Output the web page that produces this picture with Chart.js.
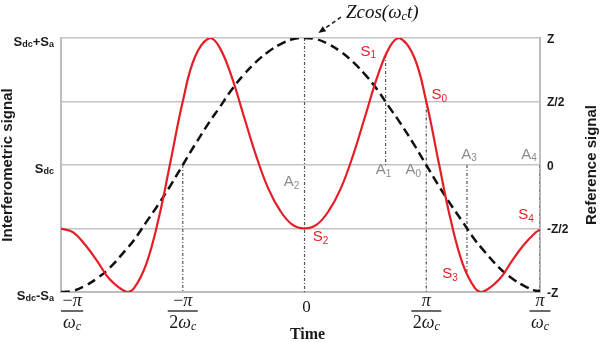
<!DOCTYPE html>
<html>
<head>
<meta charset="utf-8">
<script src="https://cdn.jsdelivr.net/npm/chart.js@4.4.0/dist/chart.umd.min.js"></script>
<style>
  html, body { margin: 0; padding: 0; background: #fff; }
  canvas { display: block; }
</style>
</head>
<body>
<canvas id="chart" width="600" height="342"></canvas>
<script>
// Time axis in units of pi/omega_c
const timeValues = [-1, -0.95, -0.9, -0.85, -0.8, -0.73, -0.7, -0.65, -0.6, -0.55,
  -0.5, -0.45, -0.39, -0.35, -0.3, -0.25, -0.2, -0.15, -0.1, -0.05,
  0, 0.05, 0.1, 0.15, 0.2, 0.25, 0.3, 0.35, 0.39, 0.45,
  0.5, 0.55, 0.6, 0.65, 0.7, 0.73, 0.8, 0.85, 0.9, 0.95, 0.967];

// Interferometric signal, (S - Sdc) / Sa
const interferometric = [-0.50, -0.53, -0.63, -0.76, -0.90, -1.00, -0.97, -0.78, -0.43, 0.03,
  0.50, 0.85, 1.00, 0.93, 0.70, 0.39, 0.08, -0.18, -0.36, -0.47,
  -0.50, -0.47, -0.36, -0.18, 0.08, 0.39, 0.70, 0.93, 1.00, 0.85,
  0.50, 0.03, -0.43, -0.78, -0.97, -1.00, -0.90, -0.76, -0.63, -0.53, -0.51];

// Reference signal, Zcos(wc t) / Z
const reference = [-1.00, -0.99, -0.95, -0.89, -0.81, -0.66, -0.59, -0.45, -0.31, -0.16,
  0.00, 0.16, 0.34, 0.45, 0.59, 0.71, 0.81, 0.89, 0.95, 0.99,
  1.00, 0.99, 0.95, 0.89, 0.81, 0.71, 0.59, 0.45, 0.34, 0.16,
  0.00, -0.16, -0.31, -0.45, -0.59, -0.66, -0.81, -0.89, -0.95, -0.99, -0.99];

// Sampling instants (A2, A1, A0, A3, A4 and the -pi/2wc guide) with their vertical extents
const markerTimes = [-0.5, 0, 0.333, 0.5, 0.667, 0.967];
const markerFrom  = [0, 1, 0.866, 0.5, 0, 0];
const markerTo    = [-1, -1, 0, -1, -0.866, -1];

// Tick labels
const xTickValues = [-1, -0.5, 0, 0.5, 0.967];
const xTickNumerators = ['−π', '−π', '0', 'π', 'π'];
const xTickDenominators = ['ω', '2ω', '', '2ω', 'ω'];
const leftTickValues = [1, 0, -1];
const leftTickLabels = [['S', 'dc', '+S', 'a'], ['S', 'dc'], ['S', 'dc', '-S', 'a']];
const rightTickValues = [1, 0.5, 0, -0.5, -1];
const rightTickLabels = ['Z', 'Z/2', '0', '-Z/2', '-Z'];

const RED = '#e41e26';
const GREY = '#8c8c8c';

// Point annotations in data coordinates (time, signal)
const pointNotes = [
  { text: ['S', '1'], t: 0.262, v: 0.894, color: RED },
  { text: ['S', '0'], t: 0.553, v: 0.551, color: RED },
  { text: ['S', '2'], t: 0.066, v: -0.567, color: RED },
  { text: ['S', '3'], t: 0.598, v: -0.858, color: RED },
  { text: ['S', '4'], t: 0.910, v: -0.394, color: RED },
  { text: ['A', '2'], t: -0.053, v: -0.134, color: GREY },
  { text: ['A', '1'], t: 0.324, v: -0.039, color: GREY },
  { text: ['A', '0'], t: 0.447, v: -0.039, color: GREY },
  { text: ['A', '3'], t: 0.676, v: 0.083, color: GREY },
  { text: ['A', '4'], t: 0.922, v: 0.083, color: GREY }
];

const toPoints = (xs, ys) => xs.map((x, i) => ({ x: x, y: ys[i] }));

const datasets = [
  {
    data: toPoints(timeValues, interferometric),
    yAxisID: 'y',
    borderColor: RED,
    borderWidth: 2.2,
    pointRadius: 0,
    tension: 0.4,
    fill: false
  },
  {
    data: toPoints(timeValues, reference),
    yAxisID: 'yr',
    borderColor: '#111',
    borderWidth: 2.5,
    borderDash: [9, 5],
    pointRadius: 0,
    tension: 0.4,
    fill: false
  }
];
markerTimes.forEach((t, i) => {
  datasets.push({
    data: [{ x: t, y: markerFrom[i] }, { x: t, y: markerTo[i] }],
    yAxisID: 'y',
    borderColor: '#555',
    borderWidth: 1.2,
    borderDash: [3, 2, 1, 2],
    pointRadius: 0,
    fill: false
  });
});

function drawRich(ctx, parts, x, y, align, color) {
  let w = 0;
  for (const p of parts) { ctx.font = p.font; w += ctx.measureText(p.t).width; }
  let cx = align === 'right' ? x - w : (align === 'center' ? x - w / 2 : x);
  ctx.textBaseline = 'middle';
  ctx.textAlign = 'left';
  ctx.fillStyle = color;
  for (const p of parts) {
    ctx.font = p.font;
    ctx.fillText(p.t, cx, y + (p.dy || 0));
    cx += ctx.measureText(p.t).width;
  }
  return w;
}

const labelsPlugin = {
  id: 'labels',
  afterDatasetsDraw(chart) {
    const ctx = chart.ctx;
    const xs = chart.scales.x, yl = chart.scales.y, yr = chart.scales.yr;
    const area = chart.chartArea;
    ctx.save();

    // Left axis labels with subscripts
    const lMain = 'bold 13px "Liberation Sans", Arial, sans-serif';
    const lSub = 'bold 9px "Liberation Sans", Arial, sans-serif';
    leftTickValues.forEach((v, i) => {
      const parts = leftTickLabels[i].map((t, k) => k % 2 === 0
        ? { t: t, font: lMain, dy: 0 } : { t: t, font: lSub, dy: 3 });
      drawRich(ctx, parts, area.left - 7, yl.getPixelForValue(v) + 4, 'right', '#1a1a1a');
    });

    // Right axis labels
    ctx.font = 'bold 12px "Liberation Sans", Arial, sans-serif';
    ctx.fillStyle = '#1a1a1a';
    ctx.textAlign = 'left';
    ctx.textBaseline = 'middle';
    rightTickValues.forEach((v, i) => {
      ctx.fillText(rightTickLabels[i], area.right + 7, yr.getPixelForValue(v) + 1.5);
    });

    // Time axis fractions
    const serif = '"Liberation Serif", "DejaVu Serif", serif';
    xTickValues.forEach((v, i) => {
      let px = xs.getPixelForValue(v);
      const num = xTickNumerators[i];
      const den = xTickDenominators[i];
      if (!den) {
        ctx.font = '17px ' + serif;
        ctx.fillStyle = '#1a1a1a';
        ctx.textAlign = 'center';
        ctx.textBaseline = 'middle';
        ctx.fillText(num, px + 2, area.bottom + 16);
        return;
      }
      const numParts = num.split('').map(ch => ({ t: ch, font: (ch === 'π' ? 'italic ' : '') + '18px ' + serif }));
      const denParts = den.split('').map(ch => ({ t: ch, font: (ch === 'ω' ? 'italic ' : '') + '18px ' + serif }));
      denParts.push({ t: 'c', font: 'italic 12px ' + serif, dy: 4 });
      let wn = 0, wd = 0;
      numParts.forEach(p => { ctx.font = p.font; wn += ctx.measureText(p.t).width; });
      denParts.forEach(p => { ctx.font = p.font; wd += ctx.measureText(p.t).width; });
      const bw = Math.max(wn, wd) + 3;
      if (i === 0) px = px + bw / 2;
      drawRich(ctx, numParts, px, area.bottom + 9, 'center', '#1a1a1a');
      ctx.strokeStyle = '#1a1a1a';
      ctx.lineWidth = 1.3;
      ctx.beginPath();
      ctx.moveTo(px - bw / 2, area.bottom + 19);
      ctx.lineTo(px + bw / 2, area.bottom + 19);
      ctx.stroke();
      drawRich(ctx, denParts, px, area.bottom + 31, 'center', '#1a1a1a');
    });

    // Axis titles
    ctx.font = 'bold 15px "Liberation Sans", Arial, sans-serif';
    ctx.fillStyle = '#1a1a1a';
    ctx.textAlign = 'center';
    ctx.textBaseline = 'middle';
    const midY = (area.top + area.bottom) / 2;
    ctx.save();
    ctx.translate(8, midY);
    ctx.rotate(-Math.PI / 2);
    ctx.fillText('Interferometric signal', 0, 0);
    ctx.restore();
    ctx.save();
    ctx.translate(592, midY);
    ctx.rotate(-Math.PI / 2);
    ctx.fillText('Reference signal', 0, 0);
    ctx.restore();
    ctx.font = 'bold 16px ' + serif;
    ctx.fillText('Time', xs.getPixelForValue(0) + 3, 335);

    // Point annotations
    pointNotes.forEach(n => {
      const parts = [
        { t: n.text[0], font: '15px "Liberation Sans", Arial, sans-serif', dy: 0 },
        { t: n.text[1], font: '10px "Liberation Sans", Arial, sans-serif', dy: 4 }
      ];
      drawRich(ctx, parts, xs.getPixelForValue(n.t), yl.getPixelForValue(n.v), 'center', n.color);
    });

    // Reference waveform callout with arrow
    const tipX = xs.getPixelForValue(0.057), tipY = yr.getPixelForValue(1.04);
    const tailX = xs.getPixelForValue(0.15), tailY = yr.getPixelForValue(1.165);
    ctx.strokeStyle = '#111';
    ctx.fillStyle = '#111';
    ctx.lineWidth = 1.4;
    ctx.setLineDash([4, 3]);
    ctx.beginPath();
    ctx.moveTo(tailX, tailY);
    ctx.lineTo(tipX, tipY);
    ctx.stroke();
    ctx.setLineDash([]);
    const ang = Math.atan2(tipY - tailY, tipX - tailX);
    ctx.beginPath();
    ctx.moveTo(tipX, tipY);
    ctx.lineTo(tipX - 8 * Math.cos(ang - 0.4), tipY - 8 * Math.sin(ang - 0.4));
    ctx.lineTo(tipX - 8 * Math.cos(ang + 0.4), tipY - 8 * Math.sin(ang + 0.4));
    ctx.closePath();
    ctx.fill();
    const cap = [
      { t: 'Zcos(ω', font: 'italic 19px ' + serif, dy: 0 },
      { t: 'c', font: 'italic 12px ' + serif, dy: 4 },
      { t: 't)', font: 'italic 19px ' + serif, dy: 0 }
    ];
    drawRich(ctx, cap, xs.getPixelForValue(0.17), yr.getPixelForValue(1.195), 'left', '#111');

    ctx.restore();
  }
};

new Chart(document.getElementById('chart'), {
  type: 'line',
  data: { datasets: datasets },
  options: {
    responsive: false,
    animation: false,
    devicePixelRatio: 1,
    layout: { padding: { top: 38, left: 0, right: 0, bottom: 0 } },
    plugins: { legend: { display: false }, tooltip: { enabled: false } },
    scales: {
      x: {
        type: 'linear', min: -1, max: 0.967,
        grid: { display: false },
        border: { display: true, color: '#bdbdbd', width: 2 },
        ticks: { display: false },
        afterFit(s) { s.height = 50; }
      },
      y: {
        position: 'left', min: -1, max: 1,
        ticks: { display: false, stepSize: 0.5 },
        grid: { color: '#c4c4c4', lineWidth: 1.5, drawTicks: false },
        border: { display: true, color: '#bdbdbd', width: 2 },
        afterFit(s) { s.width = 61; }
      },
      yr: {
        position: 'right', min: -1, max: 1,
        ticks: { display: false },
        grid: { display: false, drawTicks: false },
        border: { display: true, color: '#bdbdbd', width: 2 },
        afterFit(s) { s.width = 60; }
      }
    }
  },
  plugins: [labelsPlugin]
});
</script>
</body>
</html>
